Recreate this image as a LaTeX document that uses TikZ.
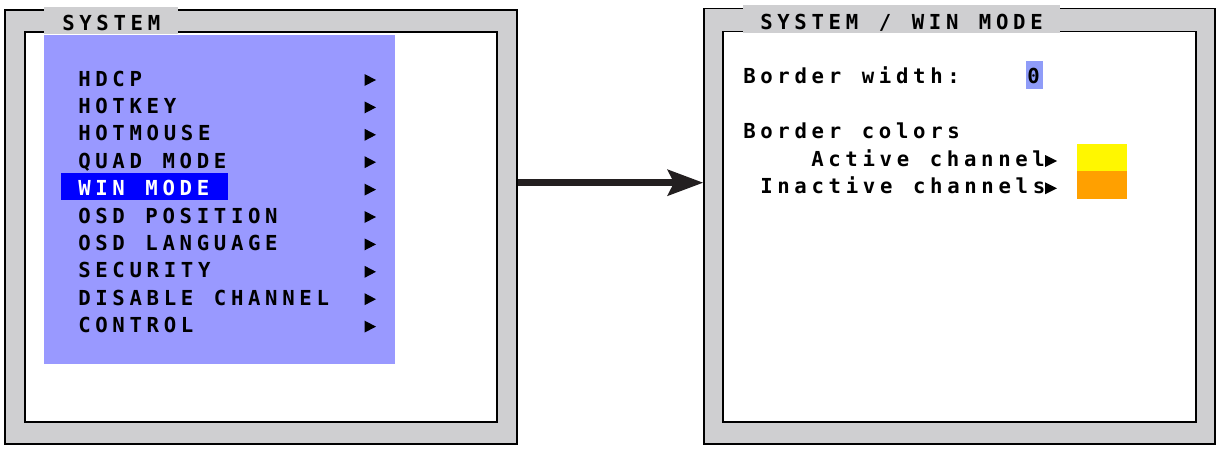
\documentclass[tikz,border=0pt]{standalone}
\usepackage{fontspec}
\newfontfamily\osdfont[LetterSpace=22.6, WordSpace=1.2]{DejaVu Sans Mono}

\tikzset{
  osd/.style={anchor=base west, inner sep=0pt, font=\osdfont\bfseries\fontsize{15.5}{18}\selectfont},
  frame/.style={fill={rgb, 255:red, 207; green, 207; blue, 209}, line width=1},
}

\begin{document}
\begin{tikzpicture}[x=0.75pt,y=0.75pt,yscale=-1,xscale=1]
	\useasboundingbox (0,0) rectangle (1219,450);

	%Shape: Rectangle [id:sysframe]
	\draw [frame] (5,10) -- (517,10) -- (517,444) -- (5,444) -- cycle ;
	\draw [fill=white, line width=1] (25,32) -- (497,32) -- (497,422) -- (25,422) -- cycle ;
	\fill [fill={rgb, 255:red, 207; green, 207; blue, 209}] (44,7) rectangle (178,33.6) ;
	%Shape: Rectangle [id:sysmenu]
	\fill [fill={rgb, 255:red, 153; green, 153; blue, 255}] (44,35) rectangle (395,364) ;
	\fill [fill={rgb, 255:red, 0; green, 0; blue, 255}] (61,173) rectangle (228,199.5) ;

	% Text Node
	\node [osd] (systitle) at (62,30.5) {SYSTEM};
	% Text Node
	\node [osd] (hdcp) at (78,86) {HDCP};
	\fill (364.5,74) -- (376,80) -- (364.5,86) -- cycle ;
	% Text Node
	\node [osd] (hotkey) at (78,113.4) {HOTKEY};
	\fill (364.5,101.4) -- (376,107.4) -- (364.5,113.4) -- cycle ;
	% Text Node
	\node [osd] (hotmouse) at (78,140.8) {HOTMOUSE};
	\fill (364.5,128.8) -- (376,134.8) -- (364.5,140.8) -- cycle ;
	% Text Node
	\node [osd] (quadmode) at (78,168.2) {QUAD MODE};
	\fill (364.5,156.2) -- (376,162.2) -- (364.5,168.2) -- cycle ;
	% Text Node
	\node [osd, text=white] (winmode) at (78,195.6) {WIN MODE};
	\fill (364.5,183.6) -- (376,189.6) -- (364.5,195.6) -- cycle ;
	% Text Node
	\node [osd] (osdpos) at (78,223) {OSD POSITION};
	\fill (364.5,211) -- (376,217) -- (364.5,223) -- cycle ;
	% Text Node
	\node [osd] (osdlang) at (78,250.4) {OSD LANGUAGE};
	\fill (364.5,238.4) -- (376,244.4) -- (364.5,250.4) -- cycle ;
	% Text Node
	\node [osd] (security) at (78,277.8) {SECURITY};
	\fill (364.5,265.8) -- (376,271.8) -- (364.5,277.8) -- cycle ;
	% Text Node
	\node [osd] (disable) at (78,305.2) {DISABLE CHANNEL};
	\fill (364.5,293.2) -- (376,299.2) -- (364.5,305.2) -- cycle ;
	% Text Node
	\node [osd] (control) at (78,332.6) {CONTROL};
	\fill (364.5,320.6) -- (376,326.6) -- (364.5,332.6) -- cycle ;

	%Shape: Rectangle [id:winframe]
	\draw [frame] (704,8.5) -- (1215,8.5) -- (1215,444) -- (704,444) -- cycle ;
	\draw [fill=white, line width=1] (723,31.5) -- (1196,31.5) -- (1196,422) -- (723,422) -- cycle ;
	\fill [fill={rgb, 255:red, 207; green, 207; blue, 209}] (742.5,5) rectangle (1060,33) ;
	\fill [fill={rgb, 255:red, 143; green, 156; blue, 248}] (1026,61) rectangle (1043,88.5) ;
	\fill [fill={rgb, 255:red, 255; green, 247; blue, 0}] (1077,144) rectangle (1127,171) ;
	\fill [fill={rgb, 255:red, 255; green, 160; blue, 0}] (1077,171) rectangle (1127,198.5) ;

	% Text Node
	\node [osd] (wintitle) at (760,29.3) {SYSTEM / WIN MODE};
	% Text Node
	\node [osd] (bwidth) at (743,83.5) {Border width:};
	% Text Node
	\node [osd] (bvalue) at (1027,83.5) {0};
	% Text Node
	\node [osd] (bcolors) at (743,138.5) {Border colors};
	% Text Node
	\node [osd] (active) at (811,166) {Active channel};
	\fill (1045,155) -- (1057,161) -- (1045,167) -- cycle ;
	% Text Node
	\node [osd] (inactive) at (760,193.3) {Inactive channels};
	\fill (1045,182.3) -- (1057,188.3) -- (1045,194.3) -- cycle ;

	% Connection
	\coordinate (sysout) at (518,182.7) ;
	\coordinate (winin) at (703,182.7) ;
	\draw [line width=5, color={rgb, 255:red, 35; green, 31; blue, 32}] (sysout) -- ([xshift=-22pt]winin) ;
	\draw [shift={(winin)}, rotate = 180] [fill={rgb, 255:red, 35; green, 31; blue, 32 }  ][draw opacity=0] (36,-13.5) -- (0,0) -- (36,13.5) -- (29,0) -- cycle    ;

\end{tikzpicture}
\end{document}
